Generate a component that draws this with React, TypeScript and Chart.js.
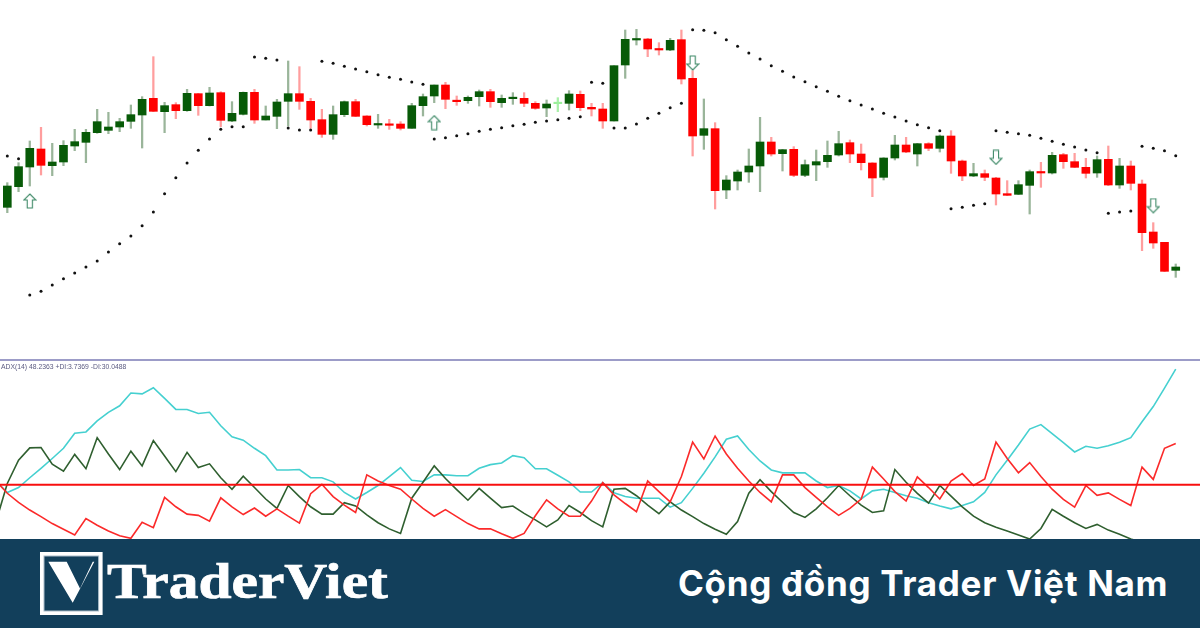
import React, { useEffect, useRef } from "react";
import { Chart, registerables } from "chart.js";

Chart.register(...registerables);

// Price pane (unitless levels)
const opens = [438,500,559,613,563,574,622,633,662,669,679,696,715,765,725,746,728,779,743,782,697,717,783,700,711,756,779,756,701,657,716,755,712,685,688,688,675,743,772,805,759,758,770,785,752,764,765,750,736,749,750,777,738,733,697,865,940,943,914,910,941,825,654,674,490,517,544,562,634,599,612,534,565,575,595,632,598,571,528,586,625,598,629,615,652,577,532,539,526,479,477,504,544,541,596,575,558,541,582,505,562,508,364,333,249];
const closes = [502,560,615,564,574,624,635,663,695,679,695,716,762,726,743,728,780,743,781,699,720,783,700,712,754,779,756,700,657,716,755,711,686,688,684,675,743,770,805,762,755,768,785,755,765,766,750,735,748,750,778,737,733,697,863,942,944,913,910,939,823,652,674,488,520,544,562,634,598,611,534,566,575,594,629,598,572,526,586,625,604,629,615,652,577,532,539,528,478,474,506,545,541,594,575,558,540,581,505,562,510,362,331,246,259];
const highs = [512,572,637,678,630,638,672,672,732,723,705,745,770,890,753,752,792,780,798,785,755,784,792,742,762,877,860,765,732,742,757,762,713,717,702,695,750,778,805,813,772,772,790,792,775,782,782,755,760,767,788,787,750,750,863,970,972,945,932,945,970,848,763,692,533,550,613,708,648,612,620,580,610,637,666,640,628,572,587,654,648,630,632,655,668,580,570,550,528,518,518,550,573,603,600,600,585,592,622,585,577,520,392,333,268];
const lows = [422,485,502,535,533,563,608,572,660,659,665,675,616,725,662,704,726,714,742,680,695,715,690,700,674,682,732,675,648,642,710,710,682,675,672,670,675,712,752,734,744,750,742,738,738,747,740,732,710,725,730,728,712,675,697,825,925,890,895,908,808,592,612,433,464,490,513,485,592,547,530,530,518,558,592,572,550,470,520,580,602,562,608,604,540,518,530,518,445,473,476,418,498,538,555,557,526,528,503,495,490,308,315,245,228];
const sar = [592,584,175,186,205,224,241,259,277,304,329,352,383,424,479,527,571,609,643,672,680,680,889,885,880,676,670,670,876,870,861,853,845,836,828,822,814,807,643,647,653,659,666,672,677,683,687,693,697,701,705,710,813,810,676,676,688,705,720,737,750,971,969,962,941,921,901,883,863,846,829,815,800,786,771,758,745,733,720,709,697,686,677,668,434,438,444,449,668,663,659,654,645,636,627,619,610,602,420,424,427,621,615,608,593];
const paleDojiIndex = [49];
const upArrowBars = [2, 38];
const upArrowLevels = [457, 692];
const downArrowBars = [61, 88, 102];
const downArrowLevels = [871, 588, 443];

// ADX(14) pane, first value belongs to the bar before the first candle
const adx = [20.9,18.1,19.3,21.7,24.0,26.4,28.9,32.6,32.9,35.6,37.7,39.3,42.4,42.2,43.7,41.1,38.4,38.4,37.4,37.7,34.4,31.7,30.9,28.9,27.1,23.6,23.6,23.7,21.7,21.7,20.7,18.1,16.5,18.1,19.8,22.0,24.2,21.1,20.8,22.4,22.4,22.2,22.2,24.0,24.9,25.3,27.1,26.6,23.9,23.9,22.3,20.7,18.2,18.2,20.5,18.0,17.1,16.7,16.7,16.7,14.5,15.6,19.1,22.8,26.8,31.1,31.9,28.6,25.8,23.6,22.9,22.9,22.9,20.9,19.3,19.8,18.5,16.5,18.5,18.9,18.1,17.3,16.7,15.6,14.8,14.1,14.9,15.8,18.1,22.4,26.0,29.7,33.6,34.7,32.5,30.3,28.0,29.4,28.9,29.5,30.4,31.5,35.4,39.1,43.6,48.2363];
const plusDi = [11.0,20.3,26.0,29.0,29.1,25.0,23.3,27.4,23.9,31.5,27.5,23.7,28.2,24.6,30.8,27.0,23.2,27.9,24.2,25.1,21.7,18.9,22.1,19.3,16.5,14.2,19.8,17.1,14.6,12.8,12.8,15.6,14.8,12.6,10.7,9.2,8.1,16.7,20.6,24.6,21.5,18.8,16.2,19.1,16.7,14.4,14.8,13.0,11.4,9.7,11.4,14.9,13.2,11.2,9.7,18.9,19.1,17.3,15.0,12.9,15.8,13.8,12.2,10.5,9.1,7.9,11.0,17.9,21.2,18.3,15.7,13.2,12.0,14.1,16.8,19.8,17.3,15.0,13.2,13.6,23.7,20.6,17.9,15.5,19.8,17.2,14.6,12.3,10.7,9.6,8.7,7.7,6.7,9.3,14.0,12.3,10.7,9.3,10.3,8.9,7.9,6.7,5.9,5.1,4.4,3.7369];
const minusDi = [20.9,17.9,15.7,13.8,12.2,10.5,9.1,7.7,11.7,10.1,8.7,7.5,6.9,10.8,9.5,16.9,14.6,12.8,12.5,11.1,16.8,14.6,12.7,14.3,12.3,14.1,12.3,10.6,17.8,20.1,17.1,15.0,13.2,22.4,20.9,19.8,18.9,16.5,14.2,12.3,13.9,12.2,10.5,9.2,9.2,8.0,6.9,8.1,12.4,16.3,14.1,12.3,12.3,16.0,20.5,17.5,15.4,13.4,20.9,18.3,15.8,22.0,30.4,26.3,31.9,27.5,24.0,20.9,18.1,15.8,22.4,22.4,19.3,16.9,14.6,12.5,14.2,16.5,24.3,21.4,18.3,16.0,21.9,19.3,16.5,20.9,22.7,19.8,21.4,30.4,26.4,22.9,25.4,22.0,18.9,16.4,14.5,19.8,17.4,18.0,16.4,14.9,24.3,21.3,28.9,30.0488];
const levelValue = 20;

const adxCaption = "ADX(14) 48.2363 +DI:3.7369 -DI:30.0488";
const brandName = "TraderViet";
const slogan = "Cộng đồng Trader Việt Nam";

const xRange = { min: -0.65, max: 106.16, type: "linear" as const, display: false, offset: false, grid: { display: false } };

function arrowImage(up: boolean) {
  const c = document.createElement("canvas");
  c.width = 14;
  c.height = 16;
  const g = c.getContext("2d")!;
  g.translate(7, 8);
  if (!up) g.scale(1, -1);
  g.beginPath();
  g.moveTo(0, -7);
  g.lineTo(6, -1);
  g.lineTo(2.6, -1);
  g.lineTo(2.6, 7);
  g.lineTo(-2.6, 7);
  g.lineTo(-2.6, -1);
  g.lineTo(-6, -1);
  g.closePath();
  g.fillStyle = "#ffffff";
  g.fill();
  g.strokeStyle = "#3f8a68";
  g.lineWidth = 1.1;
  g.stroke();
  return c;
}

export default function App() {
  const priceRef = useRef<HTMLCanvasElement>(null);
  const adxRef = useRef<HTMLCanvasElement>(null);

  useEffect(() => {
    document.body.style.margin = "0";
    const isPale = (i: number) => paleDojiIndex.includes(i);
    const isUp = (i: number) => closes[i] >= opens[i];
    const bodyColors = opens.map((_, i) => (isPale(i) ? "#9cf09c" : isUp(i) ? "#075a07" : "#ff0000"));
    const wickColors = opens.map((_, i) =>
      isPale(i) ? "#a8f0a8" : isUp(i) ? "rgba(30,90,30,0.45)" : "rgba(255,0,0,0.38)"
    );

    const price = new Chart(priceRef.current!, {
      type: "bar",
      data: {
        datasets: [
          {
            type: "scatter",
            label: "Up arrows",
            data: upArrowBars.map((x, i) => ({ x, y: upArrowLevels[i] })),
            pointStyle: arrowImage(true),
            order: 0,
          },
          {
            type: "scatter",
            label: "Down arrows",
            data: downArrowBars.map((x, i) => ({ x, y: downArrowLevels[i] })),
            pointStyle: arrowImage(false),
            order: 0,
          },
          {
            type: "scatter",
            label: "Parabolic SAR",
            data: sar.map((y, x) => ({ x, y })),
            pointRadius: 1.5,
            pointBackgroundColor: "#111111",
            pointBorderWidth: 0,
            order: 1,
          },
          {
            type: "bar",
            label: "Body",
            data: opens.map((o, x) => ({ x, y: [o, closes[x]] })),
            backgroundColor: bodyColors,
            barThickness: 8,
            minBarLength: 1.5,
            grouped: false,
            order: 2,
          },
          {
            type: "bar",
            label: "Wick",
            data: highs.map((h, x) => ({ x, y: [lows[x], h] })),
            backgroundColor: wickColors,
            barThickness: 1.6,
            grouped: false,
            order: 3,
          },
        ] as any,
      },
      options: {
        responsive: false,
        animation: false,
        layout: { padding: 0, autoPadding: false },
        plugins: { legend: { display: false }, tooltip: { enabled: false }, title: { display: false } },
        scales: {
          x: xRange,
          y: { type: "linear", display: false, min: -20, max: 1060, grid: { display: false } },
        },
      } as any,
    });

    const line = (label: string, values: number[], color: string, width: number, order: number) => ({
      type: "line",
      label,
      data: values.map((y, i) => ({ x: i - 1, y })),
      borderColor: color,
      borderWidth: width,
      pointRadius: 0,
      tension: 0,
      order,
    });

    const adxChart = new Chart(adxRef.current!, {
      type: "line",
      data: {
        datasets: [
          {
            type: "line",
            label: "Level",
            data: [
              { x: -1, y: levelValue },
              { x: 107, y: levelValue },
            ],
            borderColor: "#f80f0f",
            borderWidth: 2,
            pointRadius: 0,
            order: 0,
          },
          line("-DI", minusDi, "#fb2a2a", 1.6, 1),
          line("+DI", plusDi, "#2f5f2f", 1.6, 2),
          line("ADX", adx, "#45d0d0", 1.6, 3),
        ] as any,
      },
      options: {
        responsive: false,
        animation: false,
        layout: { padding: 0, autoPadding: false },
        plugins: { legend: { display: false }, tooltip: { enabled: false }, title: { display: false } },
        scales: {
          x: xRange,
          y: { type: "linear", display: false, min: -0.12, max: 50.24, grid: { display: false } },
        },
      } as any,
    });

    return () => {
      price.destroy();
      adxChart.destroy();
    };
  }, []);

  return (
    <div style={{ position: "relative", width: 1200, height: 628, overflow: "hidden", background: "#ffffff" }}>
      <canvas ref={priceRef} width={1200} height={360} style={{ position: "absolute", left: 0, top: 0, display: "block" }} />
      <div style={{ position: "absolute", left: 0, top: 359, width: 1200, height: 2, background: "#9c9cc8" }} />
      <canvas ref={adxRef} width={1200} height={206} style={{ position: "absolute", left: 0, top: 361, display: "block" }} />
      <div
        style={{
          position: "absolute",
          left: 1,
          top: 362,
          font: "6.8px 'Liberation Sans', sans-serif",
          lineHeight: "10px",
          color: "#5a5a80",
          whiteSpace: "nowrap",
        }}
      >
        {adxCaption}
      </div>
      <div style={{ position: "absolute", left: 0, top: 539, width: 1200, height: 89, background: "#123f5b" }}>
        <svg width={70} height={70} viewBox="0 0 70 70" style={{ position: "absolute", left: 36, top: 9 }}>
          <rect x={4} y={4} width={62.6} height={63} fill="#ffffff" />
          <rect x={8} y={8} width={54.6} height={55} fill="#123f5b" stroke="#a9bcc9" strokeWidth={1} />
          <rect x={9.5} y={9.5} width={51.6} height={52} fill="#123f5b" />
          <polygon points="12.3,19.3 30.7,19.3 44,46 56.7,19.3 58.3,19.3 36.7,60.3" fill="#ffffff" transform="translate(0,-5.5)" />
        </svg>
        <div
          style={{
            position: "absolute",
            left: 107,
            top: 14,
            font: "bold 50px 'Liberation Serif', serif",
            lineHeight: "56px",
            color: "#ffffff",
            whiteSpace: "nowrap",
            transformOrigin: "left top",
            transform: "scaleX(1.19)",
            WebkitTextStroke: "0.7px #ffffff",
          }}
        >
          {brandName}
        </div>
        <div
          style={{
            position: "absolute",
            left: 678,
            top: 22,
            font: "700 35px Inter, sans-serif",
            letterSpacing: "0.7px",
            lineHeight: "44px",
            color: "#ffffff",
            whiteSpace: "nowrap",
          }}
        >
          {slogan}
        </div>
      </div>
    </div>
  );
}
